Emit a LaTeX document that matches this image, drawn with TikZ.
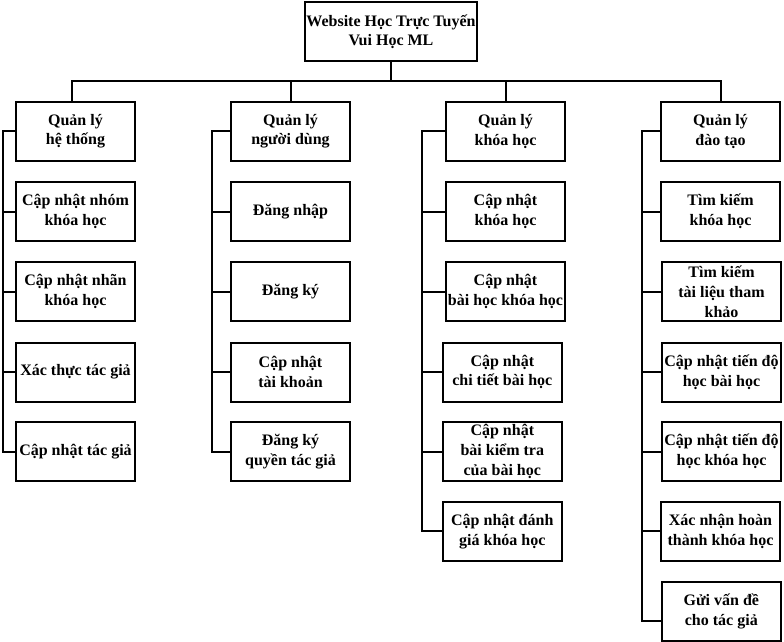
\documentclass[tikz,border=0pt]{standalone}
\usepackage{fontspec}
\setmainfont{Liberation Serif}
\begin{document}
\begin{tikzpicture}[x=1pt,y=-1pt,line width=2pt,
  box/.style={draw, line width=2pt, minimum width=119pt, minimum height=59pt, align=center, inner sep=1pt, font=\bfseries\fontsize{16}{19.8}\selectfont}]
\useasboundingbox (0,0) rectangle (784,642);
\node[box, minimum width=170pt] (web) at (391,31.7) {Website Học Trực Tuyến\\Vui Học ML};

\node[box] (hethong) at (75.5,131.3) {Quản lý\\hệ thống};
\node[box] (nguoidung) at (290.5,131.3) {Quản lý\\người dùng};
\node[box] (khoahoc) at (505.5,131.3) {Quản lý\\khóa học};
\node[box] (daotao) at (720.5,131.3) {Quản lý\\đào tạo};

\node[box] (nhom) at (75.5,211.5) {Cập nhật nhóm\\khóa học};
\node[box] (nhan) at (75.5,291.5) {Cập nhật nhãn\\khóa học};
\node[box] (xacthuc) at (75.5,372) {Xác thực tác giả};
\node[box] (tacgia) at (75.5,451.5) {Cập nhật tác giả};

\node[box] (dangnhap) at (290.5,211.5) {Đăng nhập};
\node[box] (dangky) at (290.5,291.5) {Đăng ký};
\node[box] (taikhoan) at (290.5,372) {Cập nhật\\tài khoản};
\node[box] (quyen) at (290.5,451.5) {Đăng ký\\quyền tác giả};

\node[box] (capkh) at (505.5,211.5) {Cập nhật\\khóa học};
\node[box] (baihoc) at (505.5,291.5) {Cập nhật\\bài học khóa học};
\node[box] (chitiet) at (502.3,372) {Cập nhật\\chi tiết bài học};
\node[box] (kiemtra) at (502.3,451.5) {Cập nhật\\bài kiểm tra\\của bài học};
\node[box] (danhgia) at (502.3,531.3) {Cập nhật đánh\\giá khóa học};

\node[box] (timkh) at (720.5,211.5) {Tìm kiếm\\khóa học};
\node[box] (timtl) at (721.5,291.5) {Tìm kiếm\\tài liệu tham\\khảo};
\node[box] (tiendobh) at (721.5,372) {Cập nhật tiến độ\\học bài học};
\node[box] (tiendokh) at (721.5,451.5) {Cập nhật tiến độ\\học khóa học};
\node[box] (hoanthanh) at (720.5,531.3) {Xác nhận hoàn\\thành khóa học};
\node[box] (guivande) at (721.3,611.5) {Gửi vấn đề\\cho tác giả};

\coordinate (hbus) at (0,81);
\coordinate (bus1) at (2.7,0);
\coordinate (bus2) at (211.7,0);
\coordinate (bus3) at (421.7,0);
\coordinate (bus4) at (641.7,0);

\draw (web.south) -- (web.south |- hbus) -| ([xshift=-4pt]hethong.north);
\draw (web.south |- hbus) -| (nguoidung.north);
\draw (web.south |- hbus) -| (khoahoc.north);
\draw (web.south |- hbus) -| (daotao.north);

\draw (hethong.west) -- (hethong.west -| bus1) |- (nhom.west);
\draw (hethong.west -| bus1) |- (nhan.west);
\draw (hethong.west -| bus1) |- (xacthuc.west);
\draw (hethong.west -| bus1) |- (tacgia.west);

\draw (nguoidung.west) -- (nguoidung.west -| bus2) |- (dangnhap.west);
\draw (nguoidung.west -| bus2) |- (dangky.west);
\draw (nguoidung.west -| bus2) |- (taikhoan.west);
\draw (nguoidung.west -| bus2) |- (quyen.west);

\draw (khoahoc.west) -- (khoahoc.west -| bus3) |- (capkh.west);
\draw (khoahoc.west -| bus3) |- (baihoc.west);
\draw (khoahoc.west -| bus3) |- (chitiet.west);
\draw (khoahoc.west -| bus3) |- (kiemtra.west);
\draw (khoahoc.west -| bus3) |- (danhgia.west);

\draw (daotao.west) -- (daotao.west -| bus4) |- (timkh.west);
\draw (daotao.west -| bus4) |- (timtl.west);
\draw (daotao.west -| bus4) |- (tiendobh.west);
\draw (daotao.west -| bus4) |- (tiendokh.west);
\draw (daotao.west -| bus4) |- (hoanthanh.west);
\draw (daotao.west -| bus4) |- ([yshift=-9pt]guivande.west);
\end{tikzpicture}
\end{document}
